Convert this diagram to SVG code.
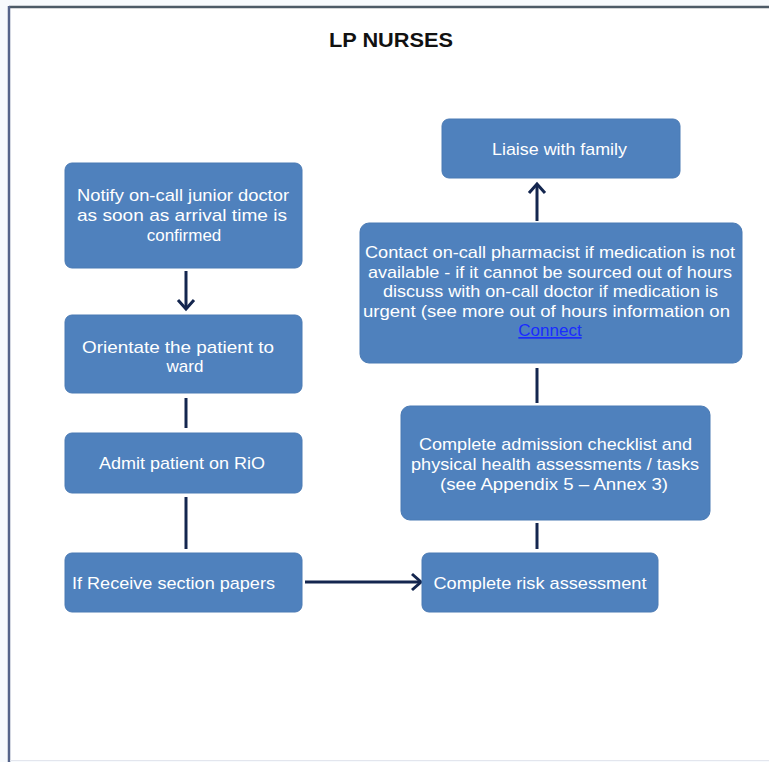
<svg xmlns="http://www.w3.org/2000/svg" width="769" height="762" viewBox="0 0 769 762">
<defs>
<style>
.box{fill:#4f81bd;stroke:#4a7ab4;stroke-width:1}
.t{fill:#ffffff;font-family:"Liberation Sans",Arial,sans-serif;font-size:17px;text-anchor:middle}
.c{fill:none;stroke:#14264f;stroke-width:3;stroke-linecap:butt}
.h{fill:none;stroke:#14264f;stroke-width:3;stroke-linejoin:miter;stroke-linecap:butt}
.title{fill:#111111;font-family:"Liberation Sans",Arial,sans-serif;font-size:20px;font-weight:bold;text-anchor:middle}
.link{fill:#1a2cff;text-decoration:underline}
</style>
</defs>
<rect x="0" y="0" width="769" height="762" fill="#f7fafd"/>
<rect x="9" y="7" width="760" height="753" fill="#ffffff"/>
<line x1="9" y1="7" x2="769" y2="7" stroke="#4c5a66" stroke-width="2.5"/>
<line x1="9" y1="6" x2="9" y2="762" stroke="#55648a" stroke-width="2.5"/>
<line x1="10" y1="760.5" x2="769" y2="760.5" stroke="#e3e6ee" stroke-width="1"/>
<text class="title" x="391" y="47" textLength="124" lengthAdjust="spacingAndGlyphs">LP NURSES</text>

<g id="connectors">
<line class="c" x1="186" y1="271" x2="186" y2="309"/>
<polyline class="h" points="178,300 186,309 194,300"/>
<line class="c" x1="186" y1="398" x2="186" y2="428"/>
<line class="c" x1="186" y1="497" x2="186" y2="549"/>
<line class="c" x1="305" y1="582" x2="421" y2="582"/>
<polyline class="h" points="412,574 421,582 412,590"/>
<line class="c" x1="537" y1="523" x2="537" y2="549"/>
<line class="c" x1="537" y1="368" x2="537" y2="403"/>
<line class="c" x1="537" y1="221" x2="537" y2="184"/>
<polyline class="h" points="529,193 537,184 545,193"/>
</g>

<g id="n1">
<rect class="box" x="65" y="163" width="237" height="105" rx="7"/>
<text class="t" x="183" y="201" textLength="212" lengthAdjust="spacingAndGlyphs">Notify on-call junior doctor</text>
<text class="t" x="182" y="221" textLength="210" lengthAdjust="spacingAndGlyphs">as soon as arrival time is</text>
<text class="t" x="184" y="241">confirmed</text>
</g>
<g id="n2">
<rect class="box" x="65" y="315" width="237" height="78" rx="7"/>
<text class="t" x="178" y="353" textLength="192" lengthAdjust="spacingAndGlyphs">Orientate the patient to</text>
<text class="t" x="185" y="372">ward</text>
</g>
<g id="n3">
<rect class="box" x="65" y="433" width="237" height="60" rx="7"/>
<text class="t" x="182" y="469" textLength="166" lengthAdjust="spacingAndGlyphs">Admit  patient on RiO</text>
</g>
<g id="n4">
<rect class="box" x="65" y="553" width="237" height="59" rx="7"/>
<text class="t" x="72" y="589" style="text-anchor:start" textLength="203" lengthAdjust="spacingAndGlyphs">If Receive section papers</text>
</g>
<g id="n5">
<rect class="box" x="422" y="553" width="236" height="59" rx="7"/>
<text class="t" x="540" y="589" textLength="213" lengthAdjust="spacingAndGlyphs">Complete risk assessment</text>
</g>
<g id="n6">
<rect class="box" x="401" y="406" width="309" height="114" rx="9"/>
<text class="t" x="555.5" y="450" textLength="273" lengthAdjust="spacingAndGlyphs">Complete  admission checklist and</text>
<text class="t" x="555" y="470" textLength="288" lengthAdjust="spacingAndGlyphs">physical health assessments / tasks</text>
<text class="t" x="554" y="490" textLength="228" lengthAdjust="spacingAndGlyphs">(see Appendix   5 – Annex 3)</text>
</g>
<g id="n7">
<rect class="box" x="360" y="223" width="382" height="140" rx="9"/>
<text class="t" x="550" y="258" textLength="370" lengthAdjust="spacingAndGlyphs">Contact on-call pharmacist if medication is not</text>
<text class="t" x="550" y="277.5" textLength="364" lengthAdjust="spacingAndGlyphs">available - if it cannot be sourced out of hours</text>
<text class="t" x="550.5" y="297" textLength="335" lengthAdjust="spacingAndGlyphs">discuss with on-call doctor if medication is</text>
<text class="t" x="546.5" y="316.5" textLength="367" lengthAdjust="spacingAndGlyphs">urgent (see more  out of hours information on</text>
<text class="t link" x="550" y="336">Connect</text>
</g>
<g id="n8">
<rect class="box" x="442" y="119" width="238" height="59" rx="7"/>
<text class="t" x="559.5" y="155" textLength="135" lengthAdjust="spacingAndGlyphs">Liaise with family</text>
</g>
</svg>
